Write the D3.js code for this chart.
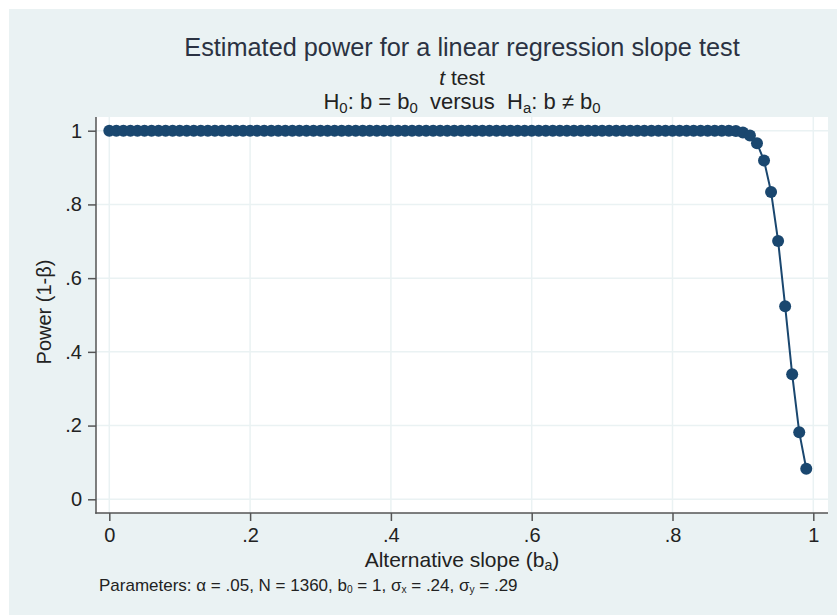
<!DOCTYPE html>
<html>
<head>
<meta charset="utf-8">
<script src="https://cdn.jsdelivr.net/npm/d3@7"></script>
<style>
  html, body { margin: 0; padding: 0; background: #ffffff; }
  svg { display: block; font-family: "Liberation Sans", Arial, sans-serif; }
  text { white-space: pre; }
</style>
</head>
<body>
<svg id="chart" width="837" height="615"></svg>
<script>
// Alternative slopes (b_a) evaluated
const slopes = [
  0.00, 0.01, 0.02, 0.03, 0.04, 0.05, 0.06, 0.07, 0.08, 0.09,
  0.10, 0.11, 0.12, 0.13, 0.14, 0.15, 0.16, 0.17, 0.18, 0.19,
  0.20, 0.21, 0.22, 0.23, 0.24, 0.25, 0.26, 0.27, 0.28, 0.29,
  0.30, 0.31, 0.32, 0.33, 0.34, 0.35, 0.36, 0.37, 0.38, 0.39,
  0.40, 0.41, 0.42, 0.43, 0.44, 0.45, 0.46, 0.47, 0.48, 0.49,
  0.50, 0.51, 0.52, 0.53, 0.54, 0.55, 0.56, 0.57, 0.58, 0.59,
  0.60, 0.61, 0.62, 0.63, 0.64, 0.65, 0.66, 0.67, 0.68, 0.69,
  0.70, 0.71, 0.72, 0.73, 0.74, 0.75, 0.76, 0.77, 0.78, 0.79,
  0.80, 0.81, 0.82, 0.83, 0.84, 0.85, 0.86, 0.87, 0.88, 0.89,
  0.90, 0.91, 0.92, 0.93, 0.94, 0.95, 0.96, 0.97, 0.98, 0.99
];

// Estimated power (1 - beta) at each alternative slope
const power = [
  1, 1, 1, 1, 1, 1, 1, 1, 1, 1,
  1, 1, 1, 1, 1, 1, 1, 1, 1, 1,
  1, 1, 1, 1, 1, 1, 1, 1, 1, 1,
  1, 1, 1, 1, 1, 1, 1, 1, 1, 1,
  1, 1, 1, 1, 1, 1, 1, 1, 1, 1,
  1, 1, 1, 1, 1, 1, 1, 1, 1, 1,
  1, 1, 1, 1, 1, 1, 1, 1, 1, 1,
  1, 1, 1, 1, 1, 1, 1, 1, 1, 1,
  1, 1, 1, 1, 1, 1, 1, 1, 1, 0.999,
  0.995, 0.987, 0.966, 0.919, 0.834, 0.701, 0.524, 0.339, 0.182, 0.083
];

const xTicks = [0, 0.2, 0.4, 0.6, 0.8, 1];
const xTickLabels = ["0", ".2", ".4", ".6", ".8", "1"];
const yTicks = [0, 0.2, 0.4, 0.6, 0.8, 1];
const yTickLabels = ["0", ".2", ".4", ".6", ".8", "1"];

const W = 837, H = 615;
const bg = "#eaf2f3";
const navy = "#1a476f";
const axisColor = "#555555";
const textColor = "#222222";

const svg = d3.select("#chart");

// Graph region background
svg.append("rect")
  .attr("x", 9).attr("y", 9)
  .attr("width", W - 9).attr("height", H - 9)
  .attr("fill", bg);

// Plot region
const plot = { left: 96, right: 828, top: 117, bottom: 513 };
svg.append("rect")
  .attr("x", plot.left).attr("y", plot.top)
  .attr("width", plot.right - plot.left)
  .attr("height", plot.bottom - plot.top)
  .attr("fill", "#ffffff");

const x = d3.scaleLinear().domain([0, 1]).range([109.3, 813.3]);
const y = d3.scaleLinear().domain([0, 1]).range([499.3, 130.7]);

// Grid lines
const grid = svg.append("g").attr("stroke", bg).attr("stroke-width", 1.5);
grid.selectAll("line.h").data(yTicks).join("line")
  .attr("x1", plot.left).attr("x2", plot.right)
  .attr("y1", d => y(d)).attr("y2", d => y(d));
grid.selectAll("line.v").data(xTicks).join("line")
  .attr("y1", plot.top).attr("y2", plot.bottom)
  .attr("x1", d => x(d)).attr("x2", d => x(d));

// Axes
const yAxis = d3.axisLeft(y)
  .tickValues(yTicks)
  .tickFormat((d, i) => yTickLabels[i])
  .tickSizeInner(8).tickSizeOuter(0).tickPadding(6);
const gy = svg.append("g").attr("transform", `translate(${plot.left},0)`).call(yAxis);

const xAxis = d3.axisBottom(x)
  .tickValues(xTicks)
  .tickFormat((d, i) => xTickLabels[i])
  .tickSizeInner(8).tickSizeOuter(0).tickPadding(7);
const gx = svg.append("g").attr("transform", `translate(0,${plot.bottom})`).call(xAxis);

[gx, gy].forEach(g => {
  g.select(".domain").remove();
  g.selectAll(".tick line").attr("stroke", axisColor).attr("stroke-width", 1.5);
  g.selectAll(".tick text")
    .attr("fill", textColor)
    .attr("font-size", 20)
    .attr("font-family", "'Liberation Sans', Arial, sans-serif");
});

// Axis lines spanning the plot region
svg.append("line")
  .attr("x1", plot.left).attr("x2", plot.left)
  .attr("y1", plot.top).attr("y2", plot.bottom + 0.75)
  .attr("stroke", axisColor).attr("stroke-width", 1.5);
svg.append("line")
  .attr("x1", plot.left - 0.75).attr("x2", plot.right)
  .attr("y1", plot.bottom).attr("y2", plot.bottom)
  .attr("stroke", axisColor).attr("stroke-width", 1.5);

// Power curve
const pts = slopes.map((s, i) => ({ s, p: power[i] }));
svg.append("path")
  .datum(pts)
  .attr("fill", "none")
  .attr("stroke", navy)
  .attr("stroke-width", 2)
  .attr("d", d3.line().x(d => x(d.s)).y(d => y(d.p)));

svg.append("g").selectAll("circle").data(pts).join("circle")
  .attr("cx", d => x(d.s))
  .attr("cy", d => y(d.p))
  .attr("r", 6)
  .attr("fill", navy);

// Text with subscripts: parts = [[text, isSub], ...]
function richText(sel, parts, size, subScale = 0.68, shift = 0.16) {
  let lowered = false;
  parts.forEach(([t, sub]) => {
    const ts = sel.append("tspan").text(t);
    if (sub) {
      ts.attr("font-size", size * subScale);
      if (!lowered) { ts.attr("dy", size * shift); lowered = true; }
    } else if (lowered) {
      ts.attr("dy", -size * shift);
      lowered = false;
    }
  });
  return sel;
}

const cx = (plot.left + plot.right) / 2;

// Titles
svg.append("text")
  .attr("x", cx).attr("y", 56)
  .attr("text-anchor", "middle")
  .attr("font-size", 25.3)
  .attr("fill", "#2b3242")
  .text("Estimated power for a linear regression slope test");

const sub1 = svg.append("text")
  .attr("x", cx).attr("y", 85)
  .attr("text-anchor", "middle")
  .attr("font-size", 21)
  .attr("fill", textColor);
sub1.append("tspan").attr("font-style", "italic").text("t");
sub1.append("tspan").text(" test");

richText(
  svg.append("text")
    .attr("x", cx).attr("y", 109)
    .attr("text-anchor", "middle")
    .attr("font-size", 22)
    .attr("fill", textColor),
  [["H", 0], ["0", 1], [": b = b", 0], ["0", 1], ["  versus  H", 0], ["a", 1],
   [": b \u2260 b", 0], ["0", 1]],
  22
);

// Axis titles
richText(
  svg.append("text")
    .attr("x", cx).attr("y", 567)
    .attr("text-anchor", "middle")
    .attr("font-size", 21)
    .attr("fill", textColor),
  [["Alternative slope (b", 0], ["a", 1], [")", 0]],
  21
);

svg.append("text")
  .attr("transform", `translate(51,${(y(0) + y(1)) / 2 - 3}) rotate(-90)`)
  .attr("text-anchor", "middle")
  .attr("font-size", 20)
  .attr("fill", textColor)
  .text("Power (1-\u03B2)");

// Note
richText(
  svg.append("text")
    .attr("x", 99).attr("y", 591)
    .attr("font-size", 17)
    .attr("fill", textColor),
  [["Parameters: \u03B1 = .05, N = 1360, b", 0], ["0", 1], [" = 1, \u03C3", 0], ["x", 1],
   [" = .24, \u03C3", 0], ["y", 1], [" = .29", 0]],
  17, 0.6, 0.14
);
</script>
</body>
</html>
